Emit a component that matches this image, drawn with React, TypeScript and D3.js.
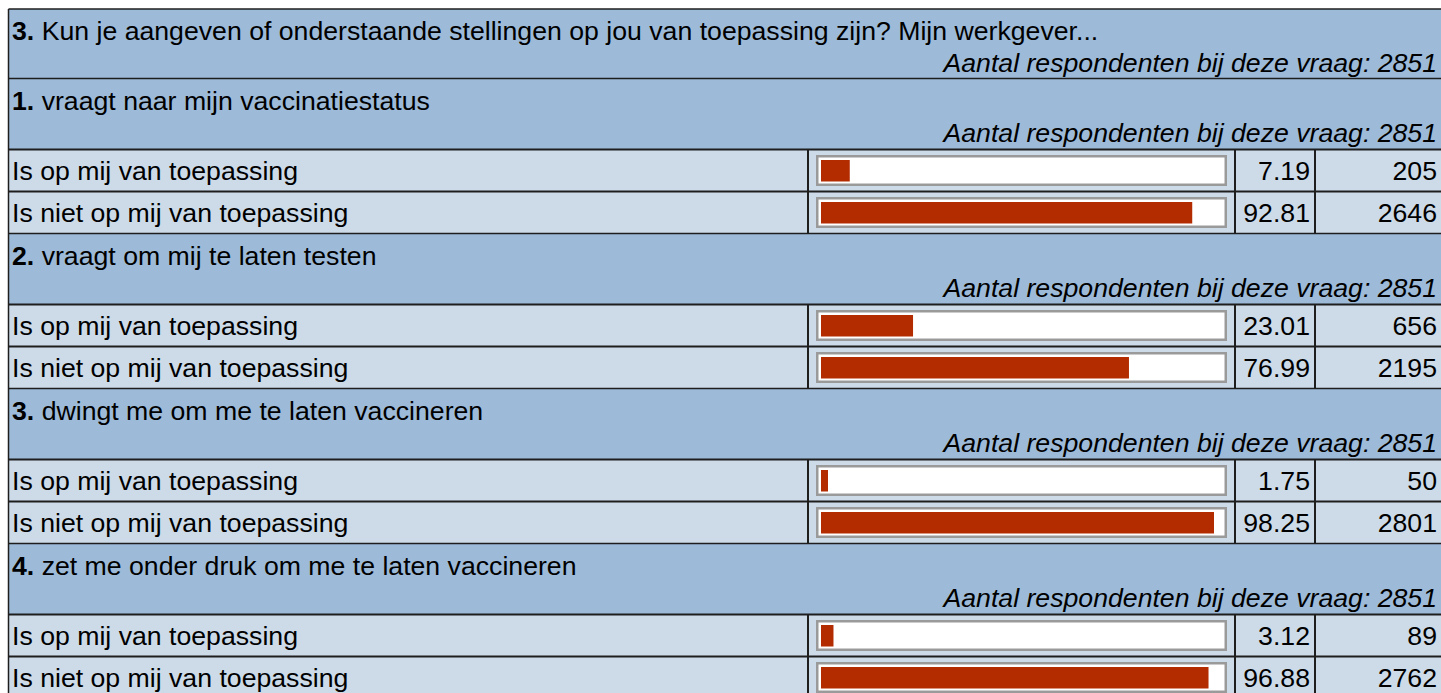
import React from "react";
import * as d3 from "d3";

const questionNumber = "3.";
const questionTitle =
  "Kun je aangeven of onderstaande stellingen op jou van toepassing zijn? Mijn werkgever...";
const totalRespondents = 2851;
const statements = [
  "vraagt naar mijn vaccinatiestatus",
  "vraagt om mij te laten testen",
  "dwingt me om me te laten vaccineren",
  "zet me onder druk om me te laten vaccineren",
];
const statementRespondents = [2851, 2851, 2851, 2851];
const answers = ["Is op mij van toepassing", "Is niet op mij van toepassing"];
const percentages = [
  [7.19, 92.81],
  [23.01, 76.99],
  [1.75, 98.25],
  [3.12, 96.88],
];
const counts = [
  [205, 2646],
  [656, 2195],
  [50, 2801],
  [89, 2762],
];
const respondentsLabel = "Aantal respondenten bij deze vraag: ";

const W = 1441;
const H = 693;
const FONT = "'Liberation Sans', Arial, Helvetica, sans-serif";
const FS = 26.67;
const HEADER_BG = "#9dbbd9";
const ROW_BG = "#cddbe8";
const LINE = "#1e1e1e";
const BAR = "#b32c00";

const X0 = 8.5;
const XBAR = 808;
const XPCT = 1235;
const XCNT = 1315;
const XEND = 1441;
const TOP = 9;
const HEAD_H = 69.5;
const SUB_H = 71;
const ROW_H = 42;

export default function App() {
  const barScale = d3.scaleLinear().domain([0, 100]).range([0, 400]);

  type Row =
    | { kind: "head"; y: number; h: number; num: string; text: string; n: number }
    | { kind: "data"; y: number; h: number; label: string; pct: number; cnt: number };
  const rows: Row[] = [];
  let y = TOP;
  rows.push({ kind: "head", y, h: HEAD_H, num: questionNumber, text: questionTitle, n: totalRespondents });
  y += HEAD_H;
  statements.forEach((s, i) => {
    rows.push({ kind: "head", y, h: SUB_H, num: `${i + 1}.`, text: s, n: statementRespondents[i] });
    y += SUB_H;
    answers.forEach((a, j) => {
      rows.push({ kind: "data", y, h: ROW_H, label: a, pct: percentages[i][j], cnt: counts[i][j] });
      y += ROW_H;
    });
  });

  return (
    <svg
      width={W}
      height={H}
      style={{ position: "absolute", left: 0, top: 0, display: "block" }}
      fontFamily={FONT}
      fontSize={FS}
    >
      <rect x={0} y={0} width={W} height={H} fill="#ffffff" />
      {rows.map((r, k) => {
        if (r.kind === "head") {
          return (
            <g key={k}>
              <rect x={X0} y={r.y} width={XEND - X0} height={r.h} fill={HEADER_BG} />
              <text x={12} y={r.y + 22} dominantBaseline="central" fill="#000">
                <tspan fontWeight="bold">{r.num}</tspan>
                <tspan> {r.text}</tspan>
              </text>
              <text
                x={1437}
                y={r.y + 54}
                dominantBaseline="central"
                textAnchor="end"
                fontStyle="italic"
                fill="#000"
              >
                {respondentsLabel + r.n}
              </text>
              <line x1={X0} x2={XEND} y1={r.y} y2={r.y} stroke={LINE} strokeWidth={1.5} />
            </g>
          );
        }
        const bx = XBAR + 8;
        const by = r.y + 5.5;
        const bw = XPCT - 8 - bx;
        const bh = 31;
        return (
          <g key={k}>
            <rect x={X0} y={r.y} width={XEND - X0} height={r.h} fill={ROW_BG} />
            <text x={12} y={r.y + 21} dominantBaseline="central" fill="#000">
              {r.label}
            </text>
            <rect
              x={bx + 1.25}
              y={by + 1.25}
              width={bw - 2.5}
              height={bh - 2.5}
              fill="#ffffff"
              stroke="#9a9a9a"
              strokeWidth={2.5}
            />
            <rect x={bx + 5} y={r.y + 10.5} width={barScale(r.pct)} height={21.5} fill={BAR} />
            <text x={XCNT - 5} y={r.y + 21} dominantBaseline="central" textAnchor="end" fill="#000">
              {r.pct.toFixed(2)}
            </text>
            <text x={1437} y={r.y + 21} dominantBaseline="central" textAnchor="end" fill="#000">
              {r.cnt}
            </text>
            <line x1={X0} x2={XEND} y1={r.y} y2={r.y} stroke={LINE} strokeWidth={2} />
            {[XBAR, XPCT, XCNT].map((vx) => (
              <line key={vx} x1={vx} x2={vx} y1={r.y} y2={r.y + r.h} stroke={LINE} strokeWidth={2} />
            ))}
          </g>
        );
      })}
      <line x1={X0} x2={X0} y1={TOP} y2={H} stroke={LINE} strokeWidth={1.5} />
    </svg>
  );
}
